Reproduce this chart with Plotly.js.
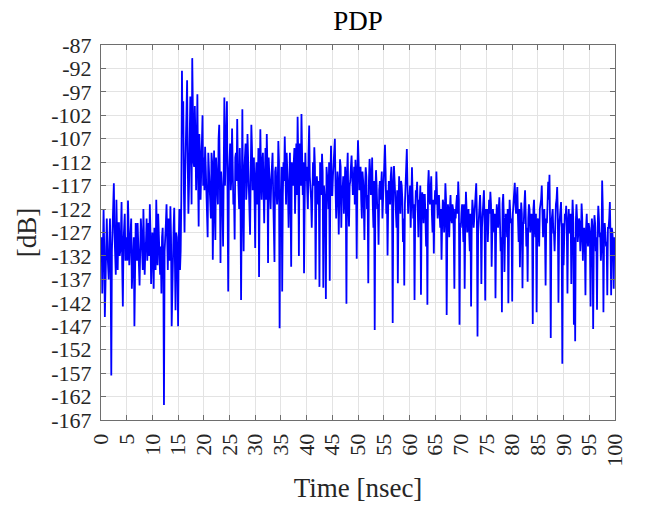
<!DOCTYPE html>
<html>
<head>
<meta charset="utf-8">
<script src="https://cdn.plot.ly/plotly-3.0.1.min.js"></script>
<style>html,body{margin:0;padding:0;background:#fff;}#chart{width:646px;height:506px;}</style>
</head>
<body>
<div id="chart"></div>
<script>
// Samples on a 0.125 ns grid: "even" samples at k*0.25 ns, "odd" samples at k*0.25+0.125 ns
const timeStep = 0.125;
const pdpDbEven = [
// 0 - 4.75
-132,-140,-122,-145,-127,-131,-137,-124,-157.5,-126,-116.5,-132,-120,-135,-125,-131,-120.5,-142.8,-126,-133,
// 5 - 9.75
-128,-120.2,-134,-127,-139,-130,-147,-125,-133,-128,-138.3,-124,-130,-122,-136,-129,-133,-125,-121,-138,
// 10 - 14.75
-127,-139,-131,-120,-134,-128,-136,-140,-126,-163.8,-129,-121,-135,-127,-121.4,-147,-130,-121.7,-143.6,-128,
// 15 - 19.75
-147,-122,-131,-92.5,-99,-127,-110,-94.5,-123,-103,-108,-89.8,-112,-100,-118,-97.5,-125.7,-110,-114,-102,
// 20 - 24.75
-111,-108.7,-117,-128,-113,-119,-110,-132.8,-109.5,-128.6,-115,-121,-104,-133.5,-118,-130,-98.2,-113,-99,-139.6,
// 25 - 29.75
-112,-118,-104.8,-121,-128.5,-110,-102.8,-117,-109,-141.4,-100.7,-131,-110,-120,-106,-114,-127.5,-104,-118,-111,
// 30 - 34.75
-130.3,-112,-118,-136.5,-105,-120,-110,-125,-109,-106,-133.5,-114,-122,-111,-119,-133.3,-113,-121,-107.5,-147.4,
// 35 - 39.75
-118,-139.6,-112,-106.5,-121,-113,-126,-110,-134.3,-116,-112,-123,-108,-102.3,-132,-113,-101.7,-119,-135.7,-110,
// 40 - 44.75
-113,-122,-104.2,-117,-126,-112,-108.8,-137,-115,-121,-138.6,-114,-110.2,-138.8,-119,-141.2,-115,-122,-137.3,-108.5,
// 45 - 49.75
-119,-113,-107,-124,-114,-127.4,-111.4,-126,-118,-123,-113,-142.2,-110,-125.7,-116,-110.6,-119,-113,-111.5,-132.6,
// 50 - 54.75
-107.3,-118,-113,-124,-116,-128.6,-113.1,-122,-137.8,-111.3,-119,-111,-126,-147.8,-113.7,-122,-129.6,-116,-115,-124,
// 55 - 59.75
-117,-108.3,-123,-131.9,-116,-121,-113,-146.3,-112.8,-119,-126,-137.8,-115,-123,-117,-129,-138.3,-118,-109.2,-123,
// 60 - 64.75
-120,-126,-113.1,-124,-141.4,-118,-116.2,-128,-121,-140.3,-118.4,-125,-119,-130,-142.4,-113.7,-121,-115,-127,-131.5,
// 65 - 69.75
-118,-114,-124,-119,-126,-132.8,-120,-127,-116.5,-144.6,-121,-128,-119,-125,-122,-139,-124,-119,-116.1,-146.7,
// 70 - 74.75
-126,-121,-129,-139,-118.3,-127,-122,-131,-142.8,-120,-126,-121,-116.5,-149.2,-124,-119,-138,-123,-118,-141.5,
// 75 - 79.75
-124,-129,-120,-118.3,-134.3,-122,-127,-141,-121,-126,-119.5,-131,-144,-118.8,-135.4,-123,-128,-142.1,-120,-125,
// 80 - 84.75
-141.7,-121,-116.4,-123,-117.3,-129,-134.4,-120.6,-138.9,-125,-118,-130,-137.5,-121,-127,-123,-146.5,-120,-128,-144,
// 85 - 89.75
-124,-130,-121,-117,-128,-122,-138.3,-125,-116.2,-114.7,-149.5,-123,-127,-131,-121,-117.3,-142,-124,-120.5,-155,
// 90 - 94.75
-134,-123,-121.3,-140,-122,-127,-138,-120,-146.7,-150.2,-121,-129,-124,-131,-120.8,-133,-126,-140.4,-123,-130,
// 95 - 100
-126,-142.8,-124,-147.6,-123.3,-131,-143.5,-121.3,-128,-133,-115.9,-144,-125,-130,-140.4,-126,-120.5,-140.4,-127,-139,
-131
];
const pdpDbOdd = [
// 0.125 - 4.875
-128,-134,-130,-138,-124,-133,-129,-135,-131,-122,-127,-136,-129,-125,-132,-127,-134,-129,-123,-130,
// 5.125 - 9.875
-133,-126,-130,-124,-135,-128,-132,-129,-125,-134,-130,-127,-135,-128,-131,-124,-129,-132,-127,-133,
// 10.125 - 14.875
-131,-126,-135,-129,-123,-132,-130,-128,-134,-131,-125,-130,-124,-133,-128,-136,-126,-132,-127,-135,
// 15.125 - 19.875
-129,-135,-120,-106,-118,-115,-101,-112,-117,-98,-121,-104,-113,-107,-109,-114,-106,-120,-104,-117,
// 20.125 - 24.875
-118,-113,-122,-110,-116,-124,-112,-118,-121,-111,-119,-107,-116,-114,-120,-108,-117,-105,-121,-115,
// 25.125 - 29.875
-108,-115,-113,-119,-111,-116,-113,-122,-117,-112,-119,-114,-108,-117,-111,-122,-115,-109,-116,-120,
// 30.125 - 34.875
-115,-121,-109,-117,-114,-112,-118,-115,-120,-113,-111,-119,-116,-110,-124,-114,-117,-118,-112,-120,
// 35.125 - 39.875
-113,-119,-116,-114,-110,-118,-115,-120,-112,-117,-109,-116,-119,-111,-108,-117,-114,-112,-121,-116,
// 40.125 - 44.875
-118,-110,-115,-120,-114,-117,-113,-121,-118,-116,-112,-119,-114,-117,-121,-113,-118,-112,-116,-119,
// 45.125 - 49.875
-115,-110,-117,-120,-116,-119,-113,-117,-115,-120,-118,-114,-121,-117,-113,-115,-117,-121,-116,-114,
// 50.125 - 54.875
-112,-116,-120,-114,-121,-117,-115,-119,-116,-114,-118,-121,-116,-119,-117,-121,-118,-120,-114,-119,
// 55.125 - 59.875
-112,-114,-118,-121,-119,-115,-120,-117,-116,-121,-118,-122,-119,-116,-120,-124,-121,-114,-117,-119,
// 60.125 - 64.875
-117,-120,-119,-121,-123,-119,-122,-120,-117,-123,-121,-119,-124,-122,-117,-119,-118,-123,-120,-122,
// 65.125 - 69.875
-121,-119,-120,-123,-122,-125,-121,-124,-120,-126,-123,-122,-124,-121,-127,-122,-121,-123,-120,-125,
// 70.125 - 74.875
-123,-124,-121,-125,-122,-124,-127,-123,-125,-122,-124,-121,-123,-127,-121,-123,-126,-120,-124,-122,
// 75.125 - 79.875
-122,-125,-123,-121,-127,-124,-123,-126,-124,-122,-125,-128,-121,-124,-126,-124,-122,-127,-123,-124,
// 80.125 - 84.875
-123,-119,-121,-120,-124,-122,-126,-123,-125,-121,-123,-126,-124,-122,-125,-124,-122,-126,-123,-125,
// 85.125 - 89.875
-127,-122,-120,-125,-123,-127,-124,-121,-120,-126,-125,-122,-127,-124,-120,-123,-126,-124,-127,-125,
// 90.125 - 94.875
-128,-124,-126,-125,-127,-123,-126,-124,-128,-125,-124,-127,-125,-128,-124,-127,-129,-126,-128,-125,
// 95.125 - 99.875
-129,-127,-126,-129,-125,-128,-126,-124,-127,-130,-122,-128,-127,-129,-126,-124,-128,-126,-130,-128
];

// Merge the two sample sets in time order
const pdpDb = [];
for (let k = 0; k < pdpDbEven.length; k++) {
  pdpDb.push(pdpDbEven[k]);
  if (k < pdpDbOdd.length) pdpDb.push(pdpDbOdd[k]);
}
const timeNs = pdpDb.map((_, i) => i * timeStep);

const yTickVals = [-167,-162,-157,-152,-147,-142,-137,-132,-127,-122,-117,-112,-107,-102,-97,-92,-87];
const yTickText = ['-167','-162','-157','-152','-147','-142','-137','-132','-127','-122','-117','-112','-107','-102','-97','-92','-87'];
const xTickVals = [0,5,10,15,20,25,30,35,40,45,50,55,60,65,70,75,80,85,90,95,100];
const xTickText = xTickVals.map(String);

const serif = 'Liberation Serif';

const trace = {
  x: timeNs, y: pdpDb, type: 'scatter', mode: 'lines',
  line: {color: '#0000ff', width: 1.8},
  hoverinfo: 'skip'
};

const axisCommon = {
  showline: true, linecolor: '#6e6e6e', linewidth: 1,
  mirror: 'ticks', ticks: 'inside', ticklen: 5, tickcolor: '#6e6e6e', tickwidth: 1,
  showgrid: true, gridcolor: '#e3e3e3', gridwidth: 1,
  zeroline: false,
  tickfont: {family: serif, size: 22, color: '#262626'},
  ticklabelstandoff: 4
};

const layout = {
  width: 646, height: 506,
  margin: {l: 101, r: 31, t: 45, b: 86, pad: 0},
  paper_bgcolor: '#ffffff', plot_bgcolor: '#ffffff',
  font: {family: serif},
  showlegend: false,
  title: {text: 'PDP', font: {family: serif, size: 27, color: '#000'}, x: 0.5, xref: 'paper', xanchor: 'center', y: 0.978, yanchor: 'top'},
  xaxis: Object.assign({}, axisCommon, {
    range: [0, 100], tickmode: 'array', tickvals: xTickVals, ticktext: xTickText,
    tickangle: -90,
    title: {text: 'Time [nsec]', font: {family: serif, size: 27, color: '#262626'}, standoff: 12}
  }),
  yaxis: Object.assign({}, axisCommon, {
    range: [-167, -87], tickmode: 'array', tickvals: yTickVals, ticktext: yTickText,
    title: {text: '[dB]', font: {family: serif, size: 27, color: '#262626'}, standoff: 6}
  })
};

Plotly.newPlot('chart', [trace], layout, {displayModeBar: false, staticPlot: true});
</script>
</body>
</html>
